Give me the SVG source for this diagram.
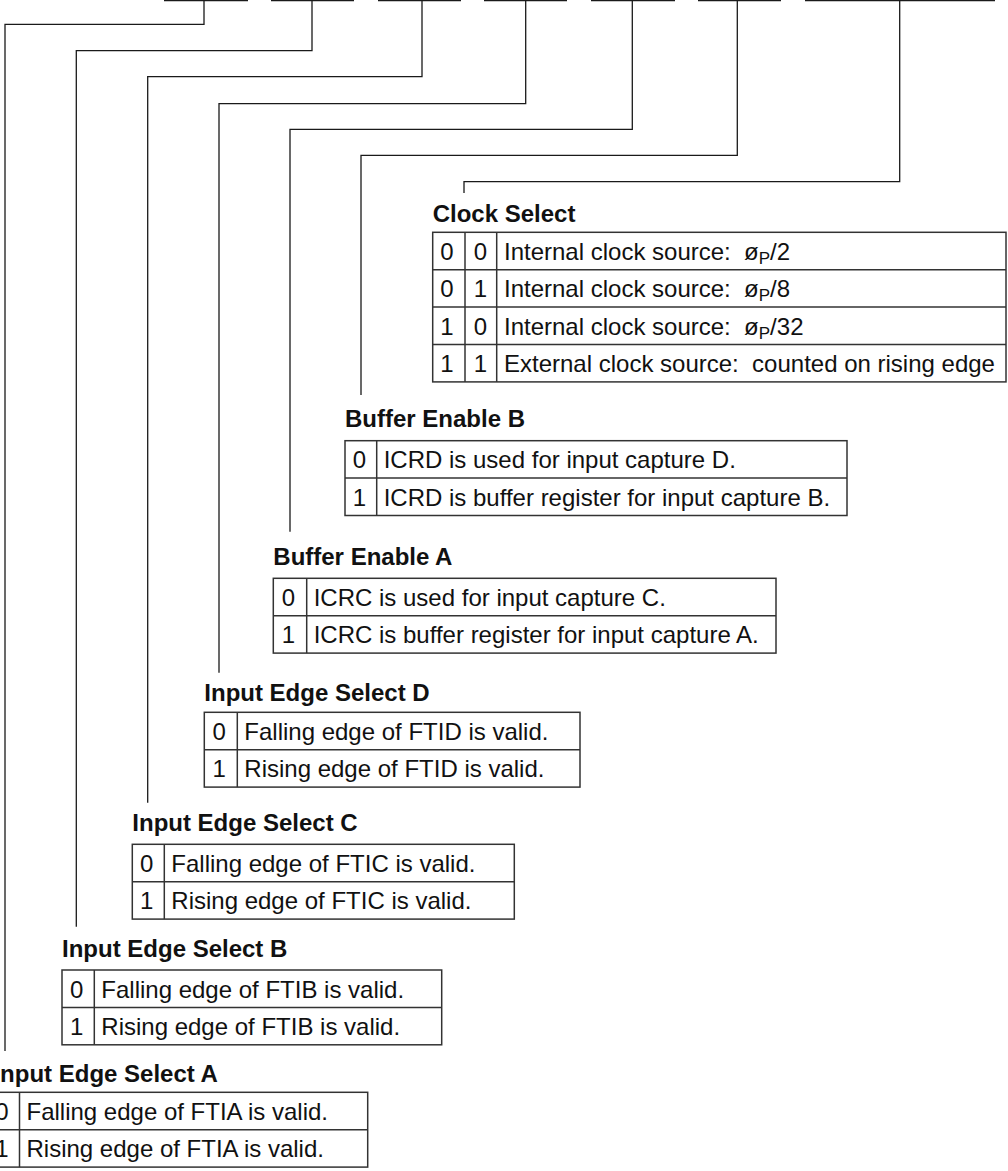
<svg xmlns="http://www.w3.org/2000/svg" width="1008" height="1171" viewBox="0 0 1008 1171">
<style>
text{font-family:"Liberation Sans",Arial,sans-serif;font-size:24px;fill:#111}
.t{font-weight:bold}
.d{text-anchor:middle}
.c{fill:none;stroke:#1a1a1a;stroke-width:1.3}
.b{fill:none;stroke:#333;stroke-width:1.5}
.bar{stroke:#1a1a1a;stroke-width:2.4}
.s{font-size:17px}
</style>
<rect width="1008" height="1171" fill="#fff"/>
<g id="bits">
<line class="bar" x1="164" y1="0" x2="248" y2="0"/>
<line class="bar" x1="271" y1="0" x2="354" y2="0"/>
<line class="bar" x1="378" y1="0" x2="461" y2="0"/>
<line class="bar" x1="484" y1="0" x2="567" y2="0"/>
<line class="bar" x1="591" y1="0" x2="675" y2="0"/>
<line class="bar" x1="698" y1="0" x2="781" y2="0"/>
<line class="bar" x1="805" y1="0" x2="995" y2="0"/>
</g>
<g id="connectors">
<polyline class="c" points="204,0 204,24.3 5,24.3 5,1051"/>
<polyline class="c" points="312,0 312,50.7 76.3,50.7 76.3,926.7"/>
<polyline class="c" points="422,0 422,76.7 147.7,76.7 147.7,802.7"/>
<polyline class="c" points="525.7,0 525.7,103.7 219,103.7 219,672.7"/>
<polyline class="c" points="632.3,0 632.3,129.3 290,129.3 290,531.7"/>
<polyline class="c" points="737.3,0 737.3,155.3 361,155.3 361,395"/>
<polyline class="c" points="899.7,0 899.7,181.7 464,181.7 464,193"/>
</g>
<g id="clock-select">
<text class="t" x="432.7" y="222">Clock Select</text>
<rect class="b" x="432.7" y="232.3" width="573.3" height="149.6"/>
<line class="b" x1="465" y1="232.3" x2="465" y2="381.9"/>
<line class="b" x1="496.7" y1="232.3" x2="496.7" y2="381.9"/>
<line class="b" x1="432.7" y1="269.7" x2="1006" y2="269.7"/>
<line class="b" x1="432.7" y1="307.1" x2="1006" y2="307.1"/>
<line class="b" x1="432.7" y1="344.5" x2="1006" y2="344.5"/>
<text class="d" x="447" y="260">0</text><text class="d" x="480.5" y="260">0</text>
<text x="504" y="260" xml:space="preserve">Internal clock source:  ø<tspan class="s" dy="4">P</tspan><tspan dy="-4">/2</tspan></text>
<text class="d" x="447" y="297.4">0</text><text class="d" x="480.5" y="297.4">1</text>
<text x="504" y="297.4" xml:space="preserve">Internal clock source:  ø<tspan class="s" dy="4">P</tspan><tspan dy="-4">/8</tspan></text>
<text class="d" x="447" y="334.8">1</text><text class="d" x="480.5" y="334.8">0</text>
<text x="504" y="334.8" xml:space="preserve">Internal clock source:  ø<tspan class="s" dy="4">P</tspan><tspan dy="-4">/32</tspan></text>
<text class="d" x="447" y="372.2">1</text><text class="d" x="480.5" y="372.2">1</text>
<text x="504" y="372.2" xml:space="preserve">External clock source:  counted on rising edge</text>
</g>
<g id="buffer-enable-b">
<text class="t" x="345" y="427">Buffer Enable B</text>
<rect class="b" x="345" y="440.7" width="502" height="74.8"/>
<line class="b" x1="376.7" y1="440.7" x2="376.7" y2="515.5"/>
<line class="b" x1="345" y1="478.1" x2="847" y2="478.1"/>
<text class="d" x="359.5" y="468.4">0</text><text x="383.7" y="468.4">ICRD is used for input capture D.</text>
<text class="d" x="359.5" y="505.8">1</text><text x="383.7" y="505.8">ICRD is buffer register for input capture B.</text>
</g>
<g id="buffer-enable-a">
<text class="t" x="273.3" y="565">Buffer Enable A</text>
<rect class="b" x="273.3" y="578.3" width="502.7" height="74.8"/>
<line class="b" x1="306.7" y1="578.3" x2="306.7" y2="653.1"/>
<line class="b" x1="273.3" y1="615.7" x2="776" y2="615.7"/>
<text class="d" x="288.5" y="606">0</text><text x="313.7" y="606">ICRC is used for input capture C.</text>
<text class="d" x="288.5" y="643.4">1</text><text x="313.7" y="643.4">ICRC is buffer register for input capture A.</text>
</g>
<g id="input-edge-select-d">
<text class="t" x="204.3" y="701">Input Edge Select D</text>
<rect class="b" x="204.3" y="712.3" width="375.7" height="74.8"/>
<line class="b" x1="237.3" y1="712.3" x2="237.3" y2="787.1"/>
<line class="b" x1="204.3" y1="749.7" x2="580" y2="749.7"/>
<text class="d" x="219.3" y="740">0</text><text x="244.3" y="740">Falling edge of FTID is valid.</text>
<text class="d" x="219.3" y="777.4">1</text><text x="244.3" y="777.4">Rising edge of FTID is valid.</text>
</g>
<g id="input-edge-select-c">
<text class="t" x="132.3" y="831">Input Edge Select C</text>
<rect class="b" x="132.3" y="844.3" width="382" height="74.8"/>
<line class="b" x1="164.3" y1="844.3" x2="164.3" y2="919.1"/>
<line class="b" x1="132.3" y1="881.7" x2="514.3" y2="881.7"/>
<text class="d" x="146.8" y="872">0</text><text x="171.3" y="872">Falling edge of FTIC is valid.</text>
<text class="d" x="146.8" y="909.4">1</text><text x="171.3" y="909.4">Rising edge of FTIC is valid.</text>
</g>
<g id="input-edge-select-b">
<text class="t" x="62" y="957">Input Edge Select B</text>
<rect class="b" x="62" y="970" width="379.7" height="74.8"/>
<line class="b" x1="94.3" y1="970" x2="94.3" y2="1044.8"/>
<line class="b" x1="62" y1="1007.4" x2="441.7" y2="1007.4"/>
<text class="d" x="76.7" y="997.7">0</text><text x="101.3" y="997.7">Falling edge of FTIB is valid.</text>
<text class="d" x="76.7" y="1035.1">1</text><text x="101.3" y="1035.1">Rising edge of FTIB is valid.</text>
</g>
<g id="input-edge-select-a">
<text class="t" x="-6.6" y="1081.5">Input Edge Select A</text>
<rect class="b" x="-12" y="1092.3" width="379.7" height="74.8"/>
<line class="b" x1="19.5" y1="1092.3" x2="19.5" y2="1167.1"/>
<line class="b" x1="-12" y1="1129.7" x2="367.7" y2="1129.7"/>
<text class="d" x="2" y="1120">0</text><text x="26.5" y="1120">Falling edge of FTIA is valid.</text>
<text class="d" x="2" y="1157.4">1</text><text x="26.5" y="1157.4">Rising edge of FTIA is valid.</text>
</g>
</svg>
